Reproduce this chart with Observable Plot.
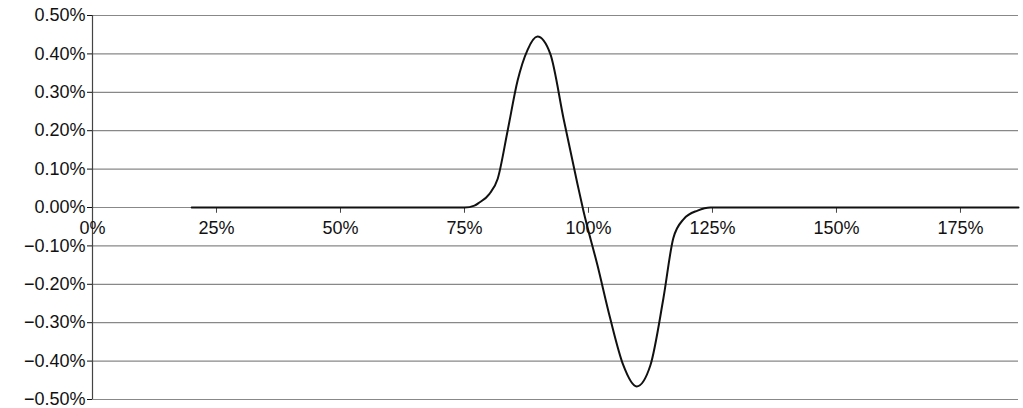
<!DOCTYPE html>
<html><head><meta charset="utf-8">
<script src="https://cdn.jsdelivr.net/npm/d3@7"></script>
<script src="https://cdn.jsdelivr.net/npm/@observablehq/plot@0.6"></script>
<style>body{margin:0;background:#fff}</style>
</head><body><div id="chart"></div>
<script>
const moneyness = [20, 40, 60, 75, 77, 78, 80, 81.7, 83.7, 85.7, 87.7, 89.7, 92.3, 95, 97.8, 99, 101.8, 104.4, 107, 109.7, 112.5, 115.1, 117.1, 119.2, 122, 124.6, 130, 150, 170, 186.7];
const values =    [0, 0, 0, 0, 0.005, 0.013, 0.035, 0.075, 0.2, 0.33, 0.41, 0.445, 0.40, 0.23, 0.06, -0.01, -0.15, -0.29, -0.41, -0.466, -0.41, -0.237, -0.08, -0.03, -0.008, 0, 0, 0, 0, 0];
const xTicks = [0, 25, 50, 75, 100, 125, 150, 175];
const yTicks = [-0.5, -0.4, -0.3, -0.2, -0.1, 0, 0.1, 0.2, 0.3, 0.4, 0.5];
const data = moneyness.map((m, i) => ({m, v: values[i]}));
const fmt = d3.format(".2%");
const chart = Plot.plot({
  width: 1023, height: 408,
  marginLeft: 92, marginRight: 5, marginTop: 15, marginBottom: 9,
  style: {fontFamily: "Liberation Sans, Arial, sans-serif", fontSize: "18px", color: "#111"},
  x: {domain: [0, 186.7], axis: null},
  y: {domain: [-0.5, 0.5]},
  marks: [
    Plot.ruleY(yTicks, {stroke: "#888", strokeWidth: 1.2}),
    Plot.ruleX([0], {stroke: "#444", strokeWidth: 1.2}),
    Plot.axisY({ticks: yTicks, tickSize: 5, tickFormat: d => fmt(d / 100), label: null, tickPadding: 2, fontSize: 18}),
    Plot.ruleX(xTicks.slice(1), {y1: 0, y2: -0.015, stroke: "#444"}),
    Plot.text(xTicks, {x: d => d, y: 0, dy: 14, lineAnchor: "top", text: d => d + "%", fontSize: 18, fill: "#111"}),
    Plot.line(data, {x: "m", y: "v", curve: "monotone-x", stroke: "#111", strokeWidth: 2})
  ]
});
document.getElementById("chart").append(chart);
</script></body></html>
